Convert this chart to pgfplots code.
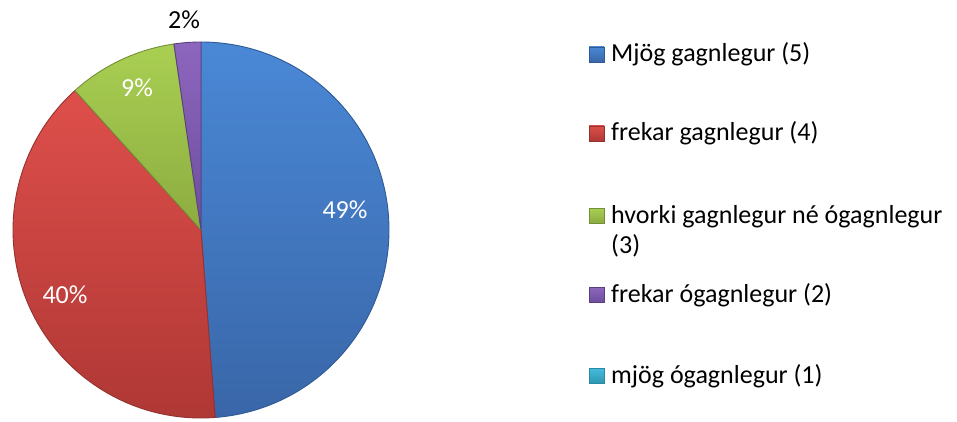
\documentclass[border=0pt]{standalone}
\usepackage{pgfplots}
\usepackage{pgfplotstable}
\pgfplotsset{compat=1.18}
\usepackage{fontspec}
\setmainfont{Carlito}
\definecolor{top0}{HTML}{4A88D6}\definecolor{bot0}{HTML}{3966A8}\definecolor{edge0}{HTML}{2F5A94}
\definecolor{top1}{HTML}{DE4F4B}\definecolor{bot1}{HTML}{AE3734}\definecolor{edge1}{HTML}{943230}
\definecolor{top2}{HTML}{A9CF52}\definecolor{bot2}{HTML}{8CAC40}\definecolor{edge2}{HTML}{72903A}
\definecolor{top3}{HTML}{8D66BE}\definecolor{bot3}{HTML}{6E4E9C}\definecolor{edge3}{HTML}{5A4080}
\definecolor{top4}{HTML}{45BCDC}\definecolor{bot4}{HTML}{2E97B4}\definecolor{edge4}{HTML}{2A8AA4}
\pgfplotstableread{
label value
5 48.8
4 39.5
3 9.4
2 2.3
1 0.0
}\piedata
\begin{document}
\begin{tikzpicture}
\begin{axis}[
  x=1pt, y=1pt, xmin=0, xmax=957, ymin=0, ymax=421,
  hide axis, clip=false, scale only axis,
]
\def\cum{90}
\pgfplotsforeachungrouped \i in {0,...,3}{%
  \pgfplotstablegetelem{\i}{value}\of\piedata
  \pgfmathsetmacro\startA{\cum}%
  \pgfmathsetmacro\endA{\cum-3.6*\pgfplotsretval}%
  \edef\temp{\noexpand\shade[top color=top\i, bottom color=bot\i, draw=edge\i, line width=0.9pt, line join=round]
    (axis cs:201,191) -- ++(\startA:188pt) arc[start angle=\startA, end angle=\endA, radius=188pt] -- cycle;}%
  \temp
  \global\let\cum\endA
}
\node[text=white, font=\fontsize{26pt}{31pt}\selectfont] at (axis cs:345,211) {49\%};
\node[text=white, font=\fontsize{26pt}{31pt}\selectfont] at (axis cs:65,126) {40\%};
\node[text=white, font=\fontsize{26pt}{31pt}\selectfont] at (axis cs:137,333) {9\%};
\node[text=black, font=\fontsize{26pt}{31pt}\selectfont] at (axis cs:184,401) {2\%};
% legend
\shade[top color=top0, bottom color=bot0, draw=edge0, line width=0.6pt] (axis cs:589,359) rectangle (axis cs:604,374);
\shade[top color=top1, bottom color=bot1, draw=edge1, line width=0.6pt] (axis cs:589,280) rectangle (axis cs:604,295);
\shade[top color=top2, bottom color=bot2, draw=edge2, line width=0.6pt] (axis cs:589,198) rectangle (axis cs:604,213);
\shade[top color=top3, bottom color=bot3, draw=edge3, line width=0.6pt] (axis cs:589,119) rectangle (axis cs:604,134);
\shade[top color=top4, bottom color=bot4, draw=edge4, line width=0.6pt] (axis cs:589,38) rectangle (axis cs:604,53);
\node[anchor=base west, inner sep=0pt, font=\fontsize{26pt}{31pt}\selectfont] at (axis cs:611,359) {Mjög gagnlegur (5)};
\node[anchor=base west, inner sep=0pt, font=\fontsize{26pt}{31pt}\selectfont] at (axis cs:611,280) {frekar gagnlegur (4)};
\node[anchor=base west, inner sep=0pt, font=\fontsize{26pt}{31pt}\selectfont] at (axis cs:611,198) {hvorki gagnlegur né ógagnlegur};
\node[anchor=base west, inner sep=0pt, font=\fontsize{26pt}{31pt}\selectfont] at (axis cs:611,168) {(3)};
\node[anchor=base west, inner sep=0pt, font=\fontsize{26pt}{31pt}\selectfont] at (axis cs:611,119) {frekar ógagnlegur (2)};
\node[anchor=base west, inner sep=0pt, font=\fontsize{26pt}{31pt}\selectfont] at (axis cs:611,38) {mjög ógagnlegur (1)};
\end{axis}
\pgfresetboundingbox
\path (0,0) rectangle (957pt,421pt);
\end{tikzpicture}
\end{document}
